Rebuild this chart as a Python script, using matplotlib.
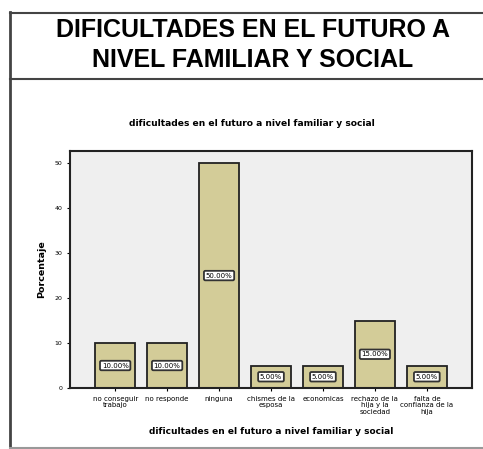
import matplotlib
matplotlib.use("Agg")
import matplotlib.pyplot as plt
from matplotlib.lines import Line2D

categories = ["no conseguir\ntrabajo", "no responde", "ninguna", "chismes de la\nesposa",
              "economicas", "rechazo de la\nhija y la\nsociedad", "falta de\nconfianza de la\nhija"]
values = [10, 10, 50, 5, 5, 15, 5]
value_labels = ["10.00%", "10.00%", "50.00%", "5.00%", "5.00%", "15.00%", "5.00%"]
yticks = [0, 10, 20, 30, 40, 50]

W, H = 483, 449
fig = plt.figure(figsize=(W / 100, H / 100), dpi=100)
plt.rcParams['font.family'] = ['Liberation Sans', 'DejaVu Sans']
small = ['DejaVu Sans']

def fx(px):
    return px / W

def fy(py):
    return 1 - py / H

# outer frame lines
fig.add_artist(Line2D([fx(10), fx(10)], [fy(12), fy(449)], color='#444444', lw=2, transform=fig.transFigure))
fig.add_artist(Line2D([fx(10), fx(483)], [fy(12.5), fy(12.5)], color='#444444', lw=1.5, transform=fig.transFigure))
fig.add_artist(Line2D([fx(10), fx(483)], [fy(78.5), fy(78.5)], color='#444444', lw=1.5, transform=fig.transFigure))
fig.add_artist(Line2D([fx(10), fx(483)], [fy(447.5), fy(447.5)], color='#999999', lw=1.5, transform=fig.transFigure))

fig.text(fx(253), fy(30), "DIFICULTADES EN EL FUTURO A", ha='center', va='center',
         fontsize=18, fontweight='bold')
fig.text(fx(253), fy(60), "NIVEL FAMILIAR Y SOCIAL", ha='center', va='center',
         fontsize=18, fontweight='bold')

fig.text(fx(252), fy(123), "dificultades en el futuro a nivel familiar y social", ha='center',
         va='center', fontsize=6.6, fontweight='bold', family=small)

ax = fig.add_axes([fx(70), fy(388), fx(472) - fx(70), (388 - 151) / H])
ax.set_facecolor('#efefef')
x = list(range(len(categories)))
ax.bar(x, values, width=0.77, color='#d3cc98', edgecolor='#222222', linewidth=1.3, zorder=2)
for xi, v, lab in zip(x, values, value_labels):
    ax.text(xi, v / 2, lab, ha='center', va='center', fontsize=5, zorder=3, family=small,
            bbox=dict(boxstyle='round,pad=0.25,rounding_size=0.2', facecolor='white',
                      edgecolor='#333333', linewidth=1.3))
ax.set_xlim(-0.87, 6.87)
ax.set_ylim(0, 52.7)
ax.set_yticks(yticks)
ax.set_yticklabels([str(t) for t in yticks], fontsize=4.5, family=small)
ax.set_xticks(x)
ax.set_xticklabels(categories, fontsize=5, linespacing=1.1, family=small)
ax.tick_params(axis='both', length=2.5, width=0.8, pad=3)
for s in ax.spines.values():
    s.set_linewidth(1.5)
    s.set_color('#222222')
ax.set_ylabel("Porcentaje", fontsize=6.8, fontweight='bold', labelpad=6, family=small)
ax.set_xlabel("dificultades en el futuro a nivel familiar y social", fontsize=6.5,
              fontweight='bold', labelpad=9, family=small)

fig.savefig("out.png", dpi=100)
